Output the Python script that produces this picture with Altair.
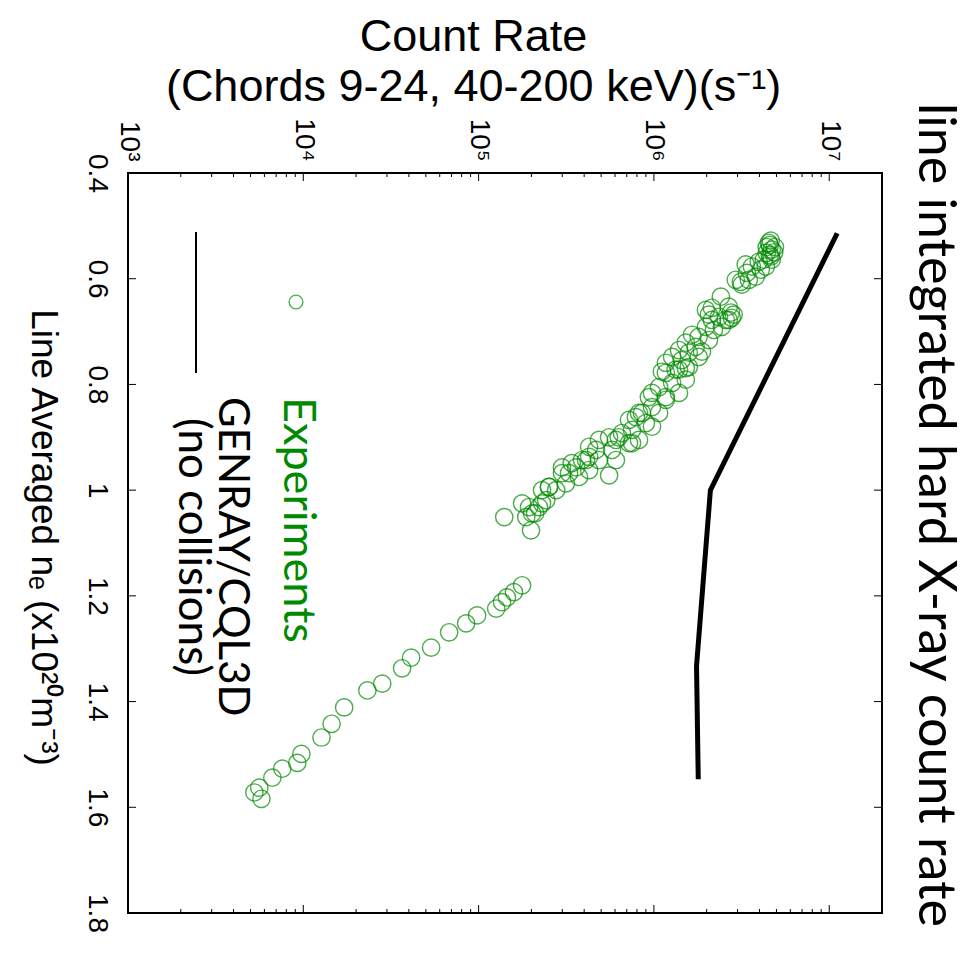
import altair as alt
import pandas as pd

# ---- experimental points (line averaged density, count rate) ----
ne_exp = [
    0.528, 0.532, 0.536, 0.540, 0.545, 0.551, 0.555, 0.558, 0.564, 0.568, 0.564,
    0.577, 0.583, 0.577, 0.573, 0.596, 0.602, 0.606, 0.602, 0.611, 0.589, 0.540, 0.550,
    0.634, 0.655, 0.659, 0.653, 0.674, 0.678, 0.672, 0.678, 0.668, 0.664, 0.691,
    0.697, 0.691, 0.678, 0.668,
    0.710, 0.706, 0.721, 0.729, 0.716, 0.735, 0.740, 0.738, 0.748, 0.754, 0.759,
    0.772, 0.776, 0.769, 0.772, 0.778, 0.791, 0.797, 0.805, 0.816, 0.824, 0.824,
    0.843, 0.854, 0.854, 0.862, 0.873, 0.880, 0.886, 0.892, 0.905, 0.905, 0.911,
    0.900, 0.924, 0.924, 0.937, 0.943, 0.943, 0.943, 0.972, 0.962, 0.957, 0.968,
    0.957, 0.975, 0.987, 1.000, 0.994, 1.000, 1.019, 1.032, 1.032, 1.025, 1.044,
    1.051, 1.051, 1.076, 1.025,
    0.748, 0.767, 0.816, 0.829, 0.854, 0.867, 0.900, 0.911, 0.905, 0.918, 0.943,
    0.949, 0.968, 0.994, 1.044,
    1.180, 1.193, 1.203, 1.212, 1.224, 1.237, 1.252, 1.269, 1.298, 1.317, 1.337,
    1.366, 1.379, 1.411, 1.442, 1.468, 1.499, 1.516, 1.527, 1.544, 1.563, 1.572, 1.584,
]
rate_exp = [
    4.64e6, 4.52e6, 4.58e6, 4.40e6, 4.70e6, 4.40e6, 4.58e6, 4.64e6, 4.24e6, 3.96e6, 4.70e6,
    4.35e6, 4.07e6, 3.62e6, 3.34e6, 3.81e6, 3.48e6, 3.13e6, 2.93e6, 3.17e6, 3.39e6, 4.90e6, 4.85e6,
    2.41e6, 2.14e6, 1.98e6, 2.67e6, 2.78e6, 2.57e6, 2.35e6, 2.14e6, 2.06e6, 2.75e6, 2.44e6,
    2.20e6, 1.98e6, 2.67e6, 2.85e6,
    1.80e6, 1.65e6, 1.52e6, 1.73e6, 2.06e6, 1.39e6, 1.58e6, 1.88e6, 1.27e6, 1.44e6, 1.17e6,
    1.33e6, 1.11e6, 1.52e6, 1.39e6, 1.17e6, 1.52e6, 1.27e6, 1.07e6, 1.39e6, 1.17e6, 9.36e5,
    9.75e5, 8.55e5, 1.07e6, 7.89e5, 9.00e5, 9.75e5, 7.50e5, 6.57e5, 8.22e5, 6.07e5, 7.21e5,
    5.55e5, 5.77e5, 4.68e5, 4.27e5, 3.89e5, 4.86e5, 6.07e5, 5.55e5, 4.27e5, 3.60e5, 3.28e5,
    2.99e5, 3.74e5, 3.15e5, 2.77e5, 2.52e5, 2.30e5, 2.43e5, 2.21e5, 1.94e5, 1.77e5, 2.02e5,
    1.87e5, 1.40e5, 1.99e5, 2.30e5,
    1.80e6, 1.58e6, 9.75e5, 1.17e6, 8.22e5, 7.21e5, 6.30e5, 7.50e5, 4.86e5, 4.27e5, 4.10e5,
    3.40e5, 2.99e5, 2.52e5, 2.10e5,
    1.77e5, 1.59e5, 1.45e5, 1.36e5, 1.26e5, 9.80e4, 8.49e4, 6.79e4, 5.36e4, 4.12e4, 3.66e4,
    2.82e4, 2.32e4, 1.71e4, 1.45e4, 1.27e4, 9.75e3, 9.24e3, 7.59e3, 6.66e3, 5.61e3, 5.26e3, 5.77e3,
]

# ---- GENRAY/CQL3D simulation (no collisions) ----
ne_model = [0.514, 1.0, 1.333, 1.547]
rate_model = [1.11e7, 2.1e6, 1.75e6, 1.79e6]

# ---- axis tick values ----
x_major = [1e3, 1e4, 1e5, 1e6, 1e7]
x_minor = [m * 10 ** e for e in range(3, 7) for m in range(2, 10)]
y_ticks = [0.4, 0.6, 0.8, 1.0, 1.2, 1.4, 1.6, 1.8]

W, H = 754, 740
GREEN = "#008a00"
FONT = "Liberation Sans"
LFONT = "Lato"

xs = alt.Scale(type="log", domain=[1e3, 2e7], nice=False)
ys = alt.Scale(domain=[0.4, 1.8], reverse=True, nice=False, zero=False)

exp_df = pd.DataFrame({"ne": ne_exp, "rate": rate_exp})
mod_df = pd.DataFrame({"ne": ne_model, "rate": rate_model})

x_axis = alt.Axis(
    orient="top", values=x_major,
    labelExpr="'10' + ['⁰','¹','²','³','⁴','⁵','⁶','⁷'][round(log(datum.value)/LN10)]",
    labelAngle=90, labelAlign="right", labelBaseline="middle",
    labelFont=FONT, labelFontSize=28, labelColor="black", labelPadding=12,
    labelFlush=False, labelOverlap=False, labelBound=False,
    ticks=False, tickSize=0, domain=False, grid=False,
    title=["Count Rate", "(Chords 9-24, 40-200 keV)(s⁻¹)"],
    titleFont=FONT, titleFontSize=45, titleFontWeight="normal", titleColor="black",
    titleAngle=0, titleAlign="center", titleBaseline="alphabetic",
    titleX=345, titleY=-123, titleLineHeight=50,
)
y_axis = alt.Axis(
    orient="left", values=y_ticks, format=".1~f",
    labelAngle=90, labelAlign="center", labelBaseline="top",
    labelFont=FONT, labelFontSize=28, labelColor="black", labelPadding=18,
    labelFlush=False, labelOverlap=False, labelBound=False,
    ticks=False, tickSize=0, domain=False, grid=False,
    title="Line Averaged nₑ (x10²⁰m⁻³)",
    titleFont=FONT, titleFontSize=37, titleFontWeight="normal", titleColor="black",
    titleAngle=90, titleAlign="center", titleBaseline="middle",
    titleX=-86, titleY=364,
)

points = alt.Chart(exp_df).mark_point(
    shape="circle", filled=False, color=GREEN, size=300, strokeWidth=1.4
).encode(
    x=alt.X("rate:Q", scale=xs, axis=x_axis),
    y=alt.Y("ne:Q", scale=ys, axis=y_axis),
)

model = alt.Chart(mod_df).mark_line(color="black", strokeWidth=5).encode(
    x=alt.X("rate:Q", scale=xs, axis=x_axis),
    y=alt.Y("ne:Q", scale=ys, axis=y_axis),
    order=alt.Order("ne:Q"),
)

# inward ticks (box style)
xmaj_df = pd.DataFrame({"rate": x_major})
xmin_df = pd.DataFrame({"rate": x_minor})
y_df = pd.DataFrame({"ne": y_ticks})

def xticks(df, y0, y1):
    return alt.Chart(df).mark_rule(color="black", strokeWidth=1).encode(
        x=alt.X("rate:Q", scale=xs, axis=x_axis), y=alt.value(y0), y2=alt.value(y1))

def yticks(df, x0, x1):
    return alt.Chart(df).mark_rule(color="black", strokeWidth=1).encode(
        y=alt.Y("ne:Q", scale=ys, axis=y_axis), x=alt.value(x0), x2=alt.value(x1))

ticks = [
    xticks(xmaj_df, 0, 8), xticks(xmin_df, 0, 4),
    xticks(xmaj_df, H, H - 8), xticks(xmin_df, H, H - 4),
    yticks(y_df, 0, 8), yticks(y_df, W, W - 8),
]

one = alt.Data(values=[{}])
legend_line = alt.Chart(one).mark_rule(color="black", strokeWidth=2).encode(
    x=alt.value(68), y=alt.value(59), y2=alt.value(200))
legend_pt = alt.Chart(one).mark_point(
    shape="circle", filled=False, color=GREEN, size=190, strokeWidth=1.4
).encode(x=alt.value(168), y=alt.value(129))

def label(txt, x, y, color, size, font=LFONT):
    return alt.Chart(one).mark_text(
        angle=90, align="left", baseline="middle", font=font,
        fontSize=size, color=color,
    ).encode(x=alt.value(x), y=alt.value(y), text=alt.value(txt))

legend_txt = [
    label("Experiments", 170, 224, GREEN, 45),
    label("GENRAY/CQL3D", 104, 224, "black", 42),
    label("(no collisions)", 64, 245, "black", 44),
]
title_txt = alt.Chart(one).mark_text(
    angle=90, align="center", baseline="middle", font=LFONT, fontSize=52, color="black"
).encode(x=alt.value(807), y=alt.value(342),
         text=alt.value("line integrated hard X-ray count rate"))

chart = alt.layer(
    points, model, *ticks, legend_line, legend_pt, *legend_txt, title_txt
).properties(
    width=W, height=H,
    padding={"left": 128, "top": 173, "right": 87, "bottom": 45},
    autosize=alt.AutoSizeParams(type="none"),
    background="white",
).configure_view(stroke="black", strokeWidth=2)

chart.save("out.html", embed_options={"renderer": "svg", "actions": False})
